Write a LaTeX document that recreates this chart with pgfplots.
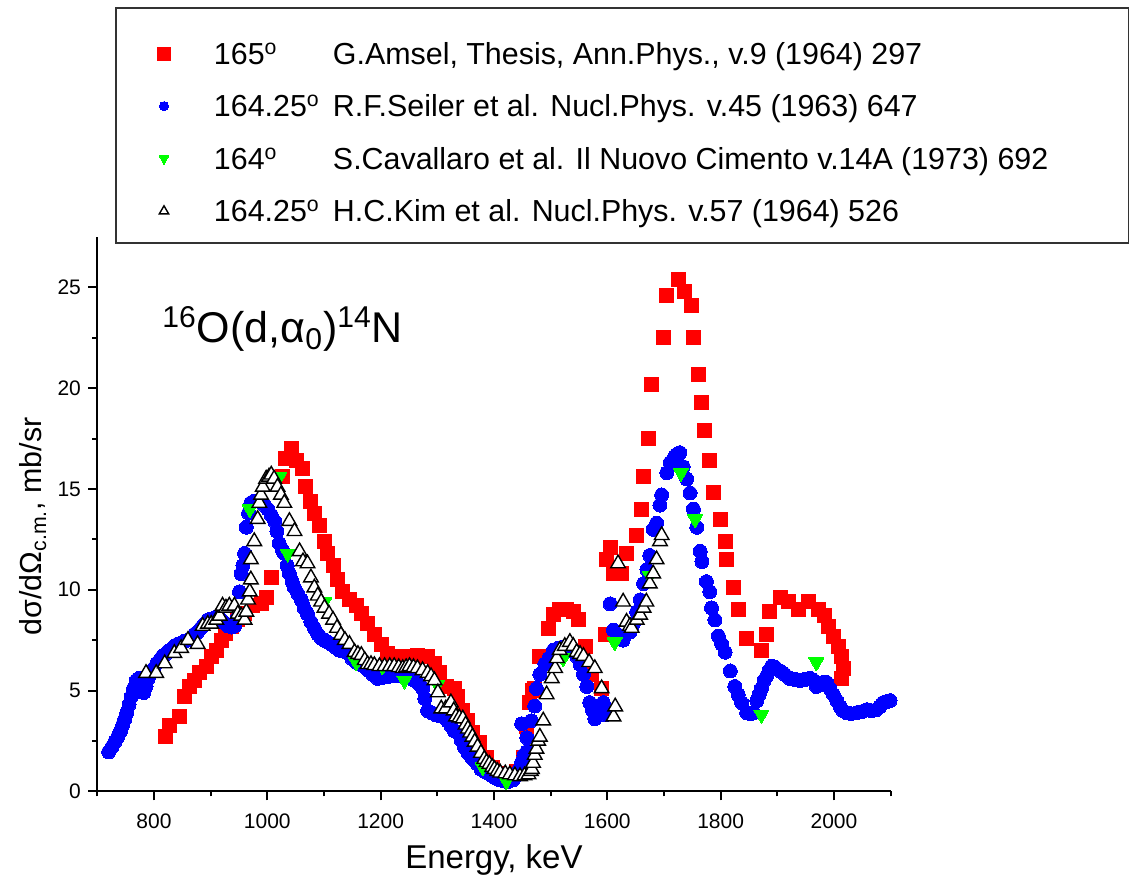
\documentclass[border=0pt]{standalone}
\usepackage{pgfplots}
\pgfplotsset{compat=1.18}
\usepackage{fontspec}
\setmainfont{Liberation Sans}
\definecolor{cred}{RGB}{255,0,0}
\definecolor{cblue}{RGB}{0,0,255}
\definecolor{cgreen}{RGB}{0,255,0}
\pgfplotsset{
  limgsq/.style={legend image code/.code={\path[draw=none,fill=none] (0pt,-1pt) rectangle (49pt,1pt); \draw[##1, mark size=3.2pt, line width=0pt] plot coordinates {(24pt,5.4pt)};}},
  limgci/.style={legend image code/.code={\path[draw=none,fill=none] (0pt,-1pt) rectangle (49pt,1pt); \draw[##1, mark size=2.3pt, line width=0pt] plot coordinates {(24pt,5.4pt)};}},
  limgtr/.style={legend image code/.code={\path[draw=none,fill=none] (0pt,-1pt) rectangle (49pt,1pt); \draw[##1, mark size=2.7pt, line width=0.5pt] plot coordinates {(24pt,5.4pt)};}},
}
\begin{document}
\begin{tikzpicture}
\useasboundingbox (0,0) rectangle (564.5pt,441pt);
\begin{axis}[
  at={(48.65pt,45.35pt)}, anchor=south west,
  scale only axis, width=396.65pt, height=277.15pt,
  xmin=700, xmax=2100, ymin=0, ymax=27.5,
  axis x line*=bottom, axis y line*=left,
  axis line style={line width=1pt, black},
  xtick={800,1000,...,2000}, minor xtick={700,900,...,2100},
  ytick={0,5,...,25}, minor ytick={2.5,7.5,...,22.5},
  tick align=outside,
  major tick length=4.5pt, minor tick length=2.5pt,
  every tick/.style={line width=1pt, black},
  /pgf/number format/assume math mode=true,
  /pgf/number format/1000 sep={},
  tick label style={font=\fontsize{10.5}{12}\selectfont},
  xticklabel style={inner sep=0pt, anchor=north, yshift=-6.5pt},
  yticklabel style={inner sep=0pt, anchor=east, xshift=-3.5pt},
  xlabel={Energy, keV},
  ylabel={dσ/dΩ\textsubscript{c.m.}, mb/sr},
  xlabel style={font=\fontsize{16.5}{19}\selectfont, at={(axis description cs:0.5,-0.1384)}, anchor=base, inner sep=0pt},
  ylabel style={font=\fontsize{15.2}{18}\selectfont, at={(axis description cs:-0.0701,0.478)}, anchor=base, inner sep=0pt},
  clip=false,
  legend cell align=left,
  legend style={at={(axis description cs:0.02231,1.41494)}, anchor=north west,
    draw=black!80, line width=1pt, inner xsep=0pt, inner ysep=2.25pt,
    column sep=0pt, row sep=-8pt, font=\fontsize{15.2}{18}\selectfont,
    nodes={inner sep=0pt, anchor=base west, text height=26pt, text depth=8.25pt}},
]
% G.Amsel
\addplot[only marks, mark=square*, mark size=3.5pt, color=cred,
  mark options={fill=cred, draw=cred, line width=0pt}, limgsq]
coordinates {
(820,2.7)(827,3.25)(845,3.7)(854,4.7)(863,5.2)(871,5.5)(880,5.9)(892,6.2)(901,6.7)(910,7.0)
(919,7.5)(927,7.85)(936,8.2)(948,8.5)(960,8.8)(974,9.2)(989,9.3)(998,9.6)(1007,10.6)(1027,15.6)
(1033,16.5)(1042,17.0)(1051,16.4)(1063,16.0)(1068,15.1)(1077,14.4)(1083,13.8)(1092,13.2)(1101,12.4)(1107,11.8)
(1116,11.2)(1124,10.5)(1133,9.9)(1145,9.5)(1157,9.2)(1166,8.8)(1177,8.3)(1189,7.8)(1201,7.3)(1213,6.85)
(1230,6.7)(1248,6.7)(1265,6.75)(1283,6.7)(1295,6.35)(1304,5.9)(1316,5.2)(1330,5.1)(1336,4.7)(1345,4.0)
(1354,3.5)(1362,2.9)(1374,2.4)(1386,1.7)(1398,1.2)(1410,0.9)(1422,0.75)(1440,1.0)(1452,1.7)(1458,3.2)
(1463,4.4)(1468,5.0)(1472,5.1)(1481,6.7)(1496,8.1)(1505,8.75)(1516,9.0)(1528,9.0)(1540,8.9)(1549,8.5)
(1561,7.2)(1572,5.8)(1590,5.1)(1596,7.8)(1599,11.5)(1605,12.1)(1611,10.8)(1625,10.8)(1634,11.8)(1652,12.7)
(1661,14.0)(1664,15.6)(1672,17.5)(1678,20.2)(1699,22.5)(1705,24.6)(1725,25.4)(1737,24.8)(1748,24.1)(1752,22.5)
(1761,20.7)(1767,19.3)(1772,17.9)(1781,16.4)(1787,14.8)(1799,13.5)(1808,12.4)(1811,11.5)(1822,10.1)(1831,9.0)
(1846,7.6)(1872,6.98)(1881,7.8)(1887,8.9)(1905,9.6)(1919,9.4)(1937,9.0)(1955,9.4)(1972,9.0)(1984,8.7)
(1990,8.2)(1999,7.7)(2008,7.2)(2014,6.7)(2016,6.1)(2014,5.6)
};
\addlegendentry{\makebox[457.5pt][l]{\makebox[59.5pt][l]{165\textsuperscript{o}}G.Amsel, Thesis, Ann.Phys., v.9 (1964) 297}}
% R.F.Seiler
\addplot[only marks, mark=*, mark size=3.5pt, color=cblue,
  mark options={fill=cblue, draw=cblue, line width=0pt}, limgci]
coordinates {
(720,1.95)(726,2.2)(731,2.45)(736,2.7)(741,3.0)(745,3.3)(748,3.55)(752,3.9)(756,4.3)(760,4.7)
(764,5.1)(769,5.5)(774,5.6)(778,5.3)(782,4.9)(786,5.2)(790,5.6)(795,5.9)(800,6.1)(805,6.35)
(810,6.5)(815,6.7)(820,6.8)(825,6.95)(830,7.0)(836,7.2)(842,7.3)(848,7.35)(854,7.45)(860,7.5)
(866,7.6)(872,7.8)(877,7.9)(883,8.1)(889,8.3)(895,8.5)(901,8.55)(907,8.6)(913,8.7)(919,8.5)
(925,8.35)(931,8.2)(937,8.15)(942,8.2)(947,8.6)(951,9.9)(954,10.8)(957,11.2)(960,11.8)(963,13.1)
(967,13.8)(971,14.3)(977,14.4)(983,14.4)(989,14.4)(995,14.2)(1001,14.0)(1007,13.7)(1013,13.4)(1017,12.9)
(1021,12.3)(1026,12.0)(1030,11.8)(1035,11.2)(1039,10.8)(1044,10.4)(1048,10.1)(1054,9.8)(1060,9.5)(1065,9.1)
(1071,8.8)(1077,8.4)(1083,8.1)(1089,7.8)(1095,7.6)(1101,7.5)(1107,7.4)(1113,7.3)(1120,7.15)(1127,7.0)
(1134,6.95)(1142,6.85)(1149,6.6)(1157,6.4)(1164,6.3)(1171,6.2)(1178,6.0)(1186,5.8)(1195,5.6)(1204,5.65)
(1213,5.7)(1222,5.75)(1232,5.75)(1242,5.7)(1252,5.6)(1260,5.5)(1265,5.4)(1270,5.25)(1274,5.1)(1278,4.6)
(1283,4.0)(1290,3.9)(1297,3.8)(1304,3.75)(1312,3.7)(1318,3.5)(1324,3.25)(1330,3.0)(1336,2.9)(1342,2.55)
(1348,2.2)(1354,1.9)(1360,1.7)(1365,1.55)(1371,1.35)(1377,1.1)(1383,1.0)(1389,0.9)(1395,0.8)(1401,0.7)
(1407,0.6)(1413,0.55)(1420,0.5)(1427,0.5)(1434,0.57)(1440,0.8)(1445,1.1)(1449,1.44)(1453,1.8)(1458,1.96)
(1458,2.66)(1449,3.35)(1466,3.5)(1472,4.23)(1475,5.1)(1481,5.8)(1490,6.32)(1497,6.6)(1505,7.0)(1513,7.1)
(1522,7.15)(1530,7.1)(1540,7.0)(1546,6.7)(1552,6.3)(1558,5.8)(1564,5.2)(1569,4.4)(1574,4.0)(1578,3.6)
(1585,3.9)(1593,4.4)(1597,3.8)(1605,9.3)(1611,8.0)(1617,7.8)(1622,7.6)(1628,7.5)(1640,7.9)(1646,8.3)
(1652,8.9)(1658,9.5)(1664,10.3)(1670,11.0)(1675,11.7)(1681,13.0)(1687,13.3)(1693,14.2)(1696,14.7)(1705,15.8)
(1711,16.3)(1717,16.5)(1722,16.7)(1728,16.8)(1734,16.1)(1740,15.5)(1746,14.8)(1752,14.0)(1758,13.1)(1764,11.9)
(1767,11.4)(1775,10.4)(1781,9.9)(1784,9.1)(1790,8.5)(1796,7.7)(1802,7.3)(1808,6.9)(1817,5.97)(1825,5.2)
(1831,4.8)(1837,4.4)(1846,3.9)(1852,3.85)(1858,3.9)(1864,4.5)(1868,4.8)(1872,5.1)(1877,5.5)(1881,5.7)
(1886,6.0)(1890,6.2)(1896,6.15)(1905,5.97)(1913,5.8)(1922,5.6)(1931,5.55)(1940,5.5)(1949,5.55)(1958,5.6)
(1964,5.5)(1969,5.2)(1975,5.3)(1981,5.4)(1987,5.4)(1993,5.1)(1999,4.8)(2005,4.5)(2011,4.2)(2016,4.0)
(2022,3.9)(2030,3.85)(2040,3.9)(2049,3.95)(2058,4.05)(2066,4.0)(2075,4.05)(2081,4.2)(2087,4.4)(2093,4.45)
(2099,4.5)
};
\addlegendentry{\makebox[457.5pt][l]{\makebox[59.5pt][l]{164.25\textsuperscript{o}}R.F.Seiler et al. Nucl.Phys. v.45 (1963) 647}}
% S.Cavallaro
\addplot[only marks, mark=triangle*, mark size=4.3pt, color=cgreen,
  mark options={rotate=180, fill=cgreen, draw=cgreen, line width=0pt}, limgtr]
coordinates {
(969,14.0)(1021,15.6)(1036,11.8)(1101,9.4)(1157,6.4)(1203,6.2)(1242,5.5)(1300,5.3)(1380,1.2)(1422,0.5)
(1522,6.6)(1613,7.4)(1675,10.7)(1730,15.8)(1755,13.5)(1872,3.8)(1969,6.4)
};
\addlegendentry{\makebox[457.5pt][l]{\makebox[59.5pt][l]{164\textsuperscript{o}}S.Cavallaro et al. Il Nuovo Cimento v.14A (1973) 692}}
% H.C.Kim
\addplot[only marks, mark=triangle*, mark size=4.2pt, color=black,
  mark options={fill=white, draw=black, line width=0.7pt}, limgtr]
coordinates {
(786,5.86)(804,5.86)(819,6.34)(836,6.85)(848,7.1)(860,7.5)(877,7.3)(886,8.2)(895,8.3)(901,8.3)
(910,8.5)(916,8.7)(921,9.2)(927,9.1)(933,9.2)(942,9.2)(948,8.8)(954,8.7)(960,8.5)(963,8.9)
(966,9.5)(969,9.9)(971,10.5)(971,11.5)(977,12.4)(983,13.5)(986,14.3)(989,14.7)(992,15.1)(998,15.5)
(1003,15.6)(1007,15.7)(1012,15.5)(1018,15.1)(1024,14.7)(1030,14.3)(1039,13.4)(1048,12.9)(1057,11.9)(1063,11.4)
(1071,11.3)(1077,10.6)(1083,10.1)(1089,9.7)(1095,9.4)(1101,9.1)(1109,8.8)(1116,8.5)(1123,8.1)(1130,7.75)
(1137,7.5)(1145,7.3)(1154,6.9)(1160,6.8)(1166,6.75)(1172,6.5)(1177,6.3)(1183,6.3)(1189,6.25)(1198,6.2)
(1207,6.2)(1216,6.2)(1224,6.2)(1232,6.15)(1239,6.1)(1245,6.15)(1251,6.2)(1258,6.15)(1265,6.1)(1274,6.0)
(1283,5.86)(1289,5.7)(1295,5.5)(1301,4.9)(1307,4.1)(1315,4.1)(1324,4.4)(1329,4.0)(1333,3.7)(1339,3.65)
(1345,3.6)(1350,3.3)(1354,3.1)(1358,2.9)(1362,2.7)(1366,2.45)(1371,2.2)(1377,1.9)(1383,1.6)(1387,1.44)
(1392,1.35)(1397,1.2)(1401,1.1)(1406,1.0)(1411,0.92)(1420,0.88)(1428,0.83)(1437,0.78)(1446,0.74)(1454,0.78)
(1461,0.83)(1465,1.0)(1467,1.1)(1469,1.4)(1472,1.8)(1475,2.1)(1478,2.5)(1481,2.7)(1487,3.5)(1493,4.8)
(1502,5.6)(1508,6.1)(1511,6.6)(1516,7.0)(1525,7.2)(1534,7.4)(1540,7.2)(1546,6.9)(1552,6.8)(1558,6.7)
(1568,6.4)(1578,6.1)(1590,5.1)(1611,3.7)(1614,4.2)(1619,11.3)(1628,9.4)(1634,8.4)(1640,8.2)(1643,8.1)
(1652,8.5)(1658,8.75)(1664,9.1)(1669,9.4)(1675,10.3)(1681,10.8)(1687,11.5)(1693,12.4)(1696,12.7)
};
\addlegendentry{\makebox[457.5pt][l]{\makebox[59.5pt][l]{164.25\textsuperscript{o}}H.C.Kim et al. Nucl.Phys. v.57 (1964) 526}}
\node[anchor=base west, inner sep=0pt, font=\fontsize{21.5}{25}\selectfont] at (axis description cs:0.0816,0.8093) {\textsuperscript{16}O(d,α\textsubscript{0})\textsuperscript{14}N};
\end{axis}
\end{tikzpicture}
\end{document}
